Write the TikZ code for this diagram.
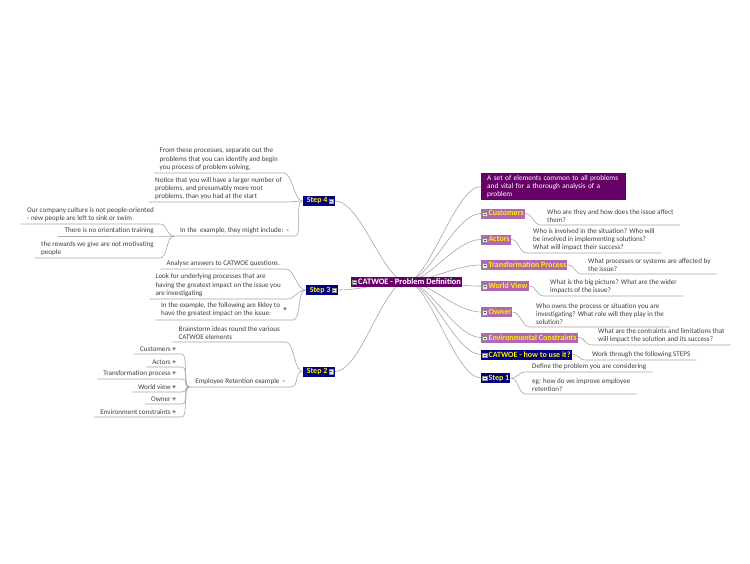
\documentclass[tikz,border=0pt]{standalone}
\usepackage{fontspec}
\setmainfont{Carlito}
\usepackage{tikz}
\usetikzlibrary{calc}

\definecolor{morado}{HTML}{660066}
\definecolor{lila}{HTML}{B366B3}
\definecolor{azul}{HTML}{000080}
\definecolor{linea}{HTML}{A6A6A6}
\definecolor{texto}{HTML}{404040}

% icono de plegar
\newcommand{\plegar}{\tikz[baseline=0pt]{\draw[draw=black!45,fill=black!8,line width=0.3pt] (0pt,-0.3pt) rectangle (4.4pt,4.1pt);
  \draw[black!70,line width=0.5pt] (1pt,1.9pt) -- (3.4pt,1.9pt);}}

\begin{document}
\begin{tikzpicture}[x=1pt,y=-1pt,
    conn/.style={draw=linea,line width=0.6pt},
    txt/.style={inner xsep=6pt,inner ysep=2pt,align=left,text=texto,font=\fontsize{7.1}{8.3}\selectfont},
    caja/.style={inner xsep=1.2pt,inner ysep=0.5pt,minimum height=10pt,text=yellow,font=\fontsize{8}{9}\selectfont\bfseries},
    cajalila/.style={caja,fill=lila},
    cajaazul/.style={caja,fill=azul}]
\useasboundingbox[fill=white] (0,0) rectangle (750,563);

% Centro
\coordinate (c0) at (406.5,281.5);

% Rama derecha
\node[anchor=west,fill=morado,text=white,text width=133pt,inner xsep=6pt,inner ysep=2pt,align=left,
  font=\fontsize{7.3}{8.3}\selectfont] (desc) at (481,186.5)
  {A set of elements common to all problems\\and vital for a thorough analysis of a\\problem};
\node[cajalila,anchor=west] (cust) at (481,213.5) {\plegar\hspace{1.5pt}Customers\hspace{3pt}};
\node[cajalila,anchor=west] (actors) at (481,239.5) {\plegar\hspace{1.5pt}Actors\hspace{3pt}};
\node[cajalila,anchor=west] (trans) at (481,265) {\plegar\hspace{1.5pt}Transformation Process\hspace{3pt}};
\node[cajalila,anchor=west] (world) at (481,286) {\plegar\hspace{1.5pt}World View\hspace{3pt}};
\node[cajalila,anchor=west] (owner) at (481,312) {\plegar\hspace{1.5pt}Owner\hspace{3pt}};
\node[cajalila,anchor=west] (env) at (481,337.5) {\plegar\hspace{1.5pt}Environmental Constraints\hspace{3pt}};
\node[cajaazul,anchor=west] (howto) at (481,354.5) {\plegar\hspace{1.5pt}CATWOE - how to use it?\hspace{3pt}};
\node[cajaazul,anchor=west] (step1) at (481,378) {\plegar\hspace{1.5pt}Step 1\hspace{3pt}};

\node[txt,anchor=south west] (rc1) at (541,225) {Who are they and how does the issue affect\\them?};
\node[txt,anchor=south west] (rc2) at (527,253) {Who is involved in the situation? Who will\\be involved in implementing solutions?\\What will impact their success?};
\node[txt,anchor=south west] (rc3) at (582,274) {What processes or systems are affected by\\the issue?};
\node[txt,anchor=south west] (rc4) at (544,296) {What is the big picture? What are the wider\\impacts of the issue?};
\node[txt,anchor=south west] (rc5) at (530,327) {Who owns the process or situation you are\\investigating? What role will they play in the\\solution?};
\node[txt,anchor=south west] (rc6) at (592,345) {What are the contraints and limitations that\\will impact the solution and its success?};
\node[txt,anchor=south west] (rc7) at (586,360) {Work through the following STEPS};
\node[txt,anchor=south west] (rc8) at (526,372) {Define the problem you are considering};
\node[txt,anchor=south west] (rc9) at (526,394) {eg: how do we improve employee\\retention?};

% Rama izquierda
\node[cajaazul,anchor=east] (step4) at (335,201) {\hspace{3pt}Step 4\hspace{1.5pt}\plegar};
\node[cajaazul,anchor=east] (step3) at (338,290) {\hspace{3pt}Step 3\hspace{1.5pt}\plegar};
\node[cajaazul,anchor=east] (step2) at (335,371.5) {\hspace{3pt}Step 2\hspace{1.5pt}\plegar};

\node[txt,anchor=south east] (c41) at (284,173) {From these processes, separate out the\\problems that you can identify and begin\\you process of problem solving.};
\node[txt,anchor=south east] (c42) at (288,202) {Notice that you will have a larger number of\\problems, and presumably more root\\problems, than you had at the start};
\node[txt,anchor=south east] (c43) at (295,236) {In the~ example, they might include:\ \ \textbf{-}};
\node[txt,anchor=south east] (c431) at (160,224) {Our company culture is not people-oriented\\- new people are left to sink or swim};
\node[txt,anchor=south east,align=right] (c432) at (160,236) {There is no orientation training};
\node[txt,anchor=south east] (c433) at (160,258) {the rewards we give are not motivating\\people};

\node[txt,anchor=south east] (c31) at (286,269) {Analyse answers to CATWOE questions.};
\node[txt,anchor=south east] (c32) at (287,299) {Look for underlying processes that are\\having the greatest impact on the issue you\\are investigating};
\node[txt,anchor=south east] (c33) at (293,320) {\begin{tabular}{@{}l@{}}In the example, the following are likley to\\have the greatest impact on the issue:\end{tabular}\ \ \textbf{+}};

\node[txt,anchor=south east] (c21) at (286,342) {Brainstorm ideas round the various\\CATWOE elements};
\node[txt,anchor=south east] (c22) at (291,387) {Employee Retention example\ \ \textbf{-}};
\node[txt,anchor=south east,align=right] (e1) at (182,354) {Customers \textbf{+}};
\node[txt,anchor=south east,align=right] (e2) at (182,367) {Actors \textbf{+}};
\node[txt,anchor=south east,align=right] (e3) at (182,379) {Transformation process \textbf{+}};
\node[txt,anchor=south east,align=right] (e4) at (182,392) {World view \textbf{+}};
\node[txt,anchor=south east,align=right] (e5) at (182,404) {Owner \textbf{+}};
\node[txt,anchor=south east,align=right] (e6) at (182,417) {Environment constraints \textbf{+}};

% Conectores del centro
\draw[conn] (c0) .. controls ($(c0)+(23,0)$) and ($(desc.west)+(-26,0)$) .. (desc.west);
\draw[conn] (c0) .. controls ($(c0)+(23,0)$) and ($(cust.west)+(-26,0)$) .. (cust.west);
\draw[conn] (c0) .. controls ($(c0)+(23,0)$) and ($(actors.west)+(-26,0)$) .. (actors.west);
\draw[conn] (c0) .. controls ($(c0)+(23,0)$) and ($(trans.west)+(-26,0)$) .. (trans.west);
\draw[conn] (c0) .. controls ($(c0)+(23,0)$) and ($(world.west)+(-26,0)$) .. (world.west);
\draw[conn] (c0) .. controls ($(c0)+(23,0)$) and ($(owner.west)+(-26,0)$) .. (owner.west);
\draw[conn] (c0) .. controls ($(c0)+(23,0)$) and ($(env.west)+(-26,0)$) .. (env.west);
\draw[conn] (c0) .. controls ($(c0)+(23,0)$) and ($(howto.west)+(-26,0)$) .. (howto.west);
\draw[conn] (c0) .. controls ($(c0)+(23,0)$) and ($(step1.west)+(-26,0)$) .. (step1.west);
\draw[conn] (c0) .. controls ($(c0)+(-23,0)$) and ($(step4.east)+(26,0)$) .. (step4.east);
\draw[conn] (c0) .. controls ($(c0)+(-23,0)$) and ($(step3.east)+(26,0)$) .. (step3.east);
\draw[conn] (c0) .. controls ($(c0)+(-23,0)$) and ($(step2.east)+(26,0)$) .. (step2.east);

% Conectores derecha
\draw[conn] (cust.east) .. controls +(8,0) and +(-8,0) .. (rc1.south west) -- (rc1.south east);
\draw[conn] (actors.east) .. controls +(8,0) and +(-8,0) .. (rc2.south west) -- (rc2.south east);
\draw[conn] (trans.east) .. controls +(8,0) and +(-8,0) .. (rc3.south west) -- (rc3.south east);
\draw[conn] (world.east) .. controls +(8,0) and +(-8,0) .. (rc4.south west) -- (rc4.south east);
\draw[conn] (owner.east) .. controls +(8,0) and +(-8,0) .. (rc5.south west) -- (rc5.south east);
\draw[conn] (env.east) .. controls +(8,0) and +(-8,0) .. (rc6.south west) -- (rc6.south east);
\draw[conn] (howto.east) .. controls +(8,0) and +(-8,0) .. (rc7.south west) -- (rc7.south east);
\draw[conn] (step1.east) .. controls +(8,0) and +(-8,0) .. (rc8.south west) -- (rc8.south east);
\draw[conn] (step1.east) .. controls +(8,0) and +(-8,0) .. (rc9.south west) -- (rc9.south east);

% Conectores izquierda
\draw[conn] (step4.west) .. controls +(-8,0) and +(8,0) .. (c41.south east) -- (c41.south west);
\draw[conn] (step4.west) .. controls +(-8,0) and +(8,0) .. (c42.south east) -- (c42.south west);
\draw[conn] (step4.west) .. controls +(-8,0) and +(8,0) .. (c43.south east) -- (c43.south west);
\draw[conn] (c43.south west) .. controls +(-8,0) and +(8,0) .. (c431.south east) -- (c431.south west);
\draw[conn] (c43.south west) .. controls +(-8,0) and +(8,0) .. (c432.south east) -- (c432.south west);
\draw[conn] (c43.south west) .. controls +(-8,0) and +(8,0) .. (c433.south east) -- (c433.south west);
\draw[conn] (step3.west) .. controls +(-8,0) and +(8,0) .. (c31.south east) -- (c31.south west);
\draw[conn] (step3.west) .. controls +(-8,0) and +(8,0) .. (c32.south east) -- (c32.south west);
\draw[conn] (step3.west) .. controls +(-8,0) and +(8,0) .. (c33.south east) -- (c33.south west);
\draw[conn] (step2.west) .. controls +(-8,0) and +(8,0) .. (c21.south east) -- (c21.south west);
\draw[conn] (step2.west) .. controls +(-8,0) and +(8,0) .. (c22.south east) -- (c22.south west);
\draw[conn] (c22.south west) .. controls +(-6,0) and +(6,0) .. (e1.south east) -- (e1.south west);
\draw[conn] (c22.south west) .. controls +(-6,0) and +(6,0) .. (e2.south east) -- (e2.south west);
\draw[conn] (c22.south west) .. controls +(-6,0) and +(6,0) .. (e3.south east) -- (e3.south west);
\draw[conn] (c22.south west) .. controls +(-6,0) and +(6,0) .. (e4.south east) -- (e4.south west);
\draw[conn] (c22.south west) .. controls +(-6,0) and +(6,0) .. (e5.south east) -- (e5.south west);
\draw[conn] (c22.south west) .. controls +(-6,0) and +(6,0) .. (e6.south east) -- (e6.south west);

% Nodo central
\node[fill=morado,text=white,inner xsep=1.5pt,inner ysep=0.5pt,minimum height=10pt,
  font=\fontsize{8.4}{9}\selectfont\bfseries] (cent) at (c0) {\plegar\hspace{1.5pt}CATWOE - Problem Definition\hspace{4pt}};

\end{tikzpicture}
\end{document}
